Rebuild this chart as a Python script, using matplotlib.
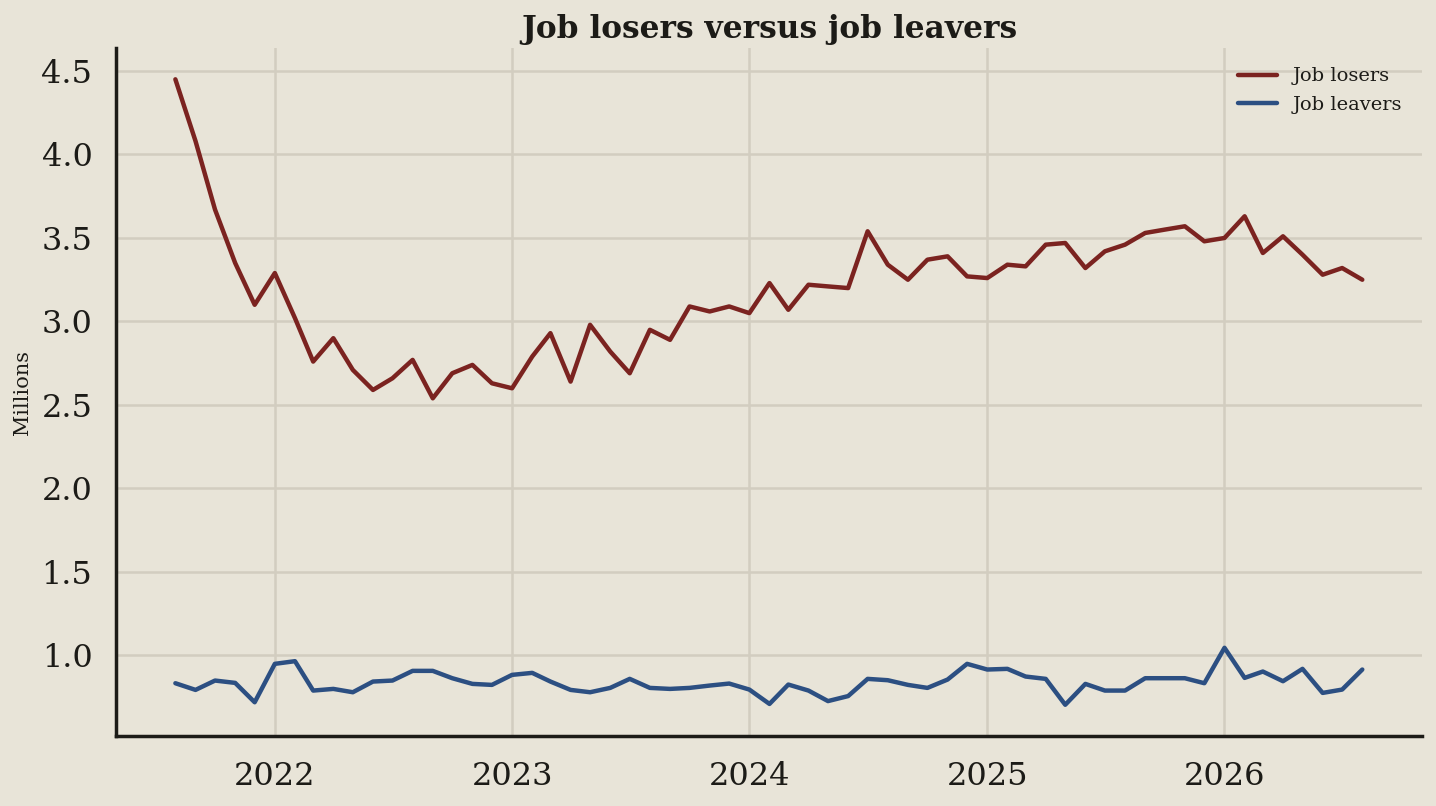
import matplotlib
matplotlib.use("Agg")
import matplotlib.pyplot as plt
import pandas as pd

dates = pd.date_range("2021-08-01", "2026-08-01", freq="MS")

job_losers = [
    4.45, 4.08, 3.67, 3.35, 3.10,
    3.29, 3.02, 2.76, 2.90, 2.71, 2.59, 2.66, 2.77, 2.54, 2.69, 2.74, 2.63,
    2.60, 2.79, 2.93, 2.64, 2.98, 2.82, 2.69, 2.95, 2.89, 3.09, 3.06, 3.09,
    3.05, 3.23, 3.07, 3.22, 3.21, 3.20, 3.54, 3.34, 3.25, 3.37, 3.39, 3.27,
    3.26, 3.34, 3.33, 3.46, 3.47, 3.32, 3.42, 3.46, 3.53, 3.55, 3.57, 3.48,
    3.50, 3.63, 3.41, 3.51, 3.40, 3.28, 3.32, 3.25,
]
job_leavers = [
    0.834, 0.794, 0.850, 0.836, 0.720,
    0.950, 0.966, 0.790, 0.800, 0.780, 0.844, 0.850, 0.908, 0.908, 0.864, 0.830, 0.824,
    0.884, 0.896, 0.844, 0.794, 0.780, 0.806, 0.860, 0.806, 0.800, 0.806, 0.820, 0.832,
    0.796, 0.710, 0.826, 0.790, 0.727, 0.757, 0.860, 0.852, 0.824, 0.806, 0.856, 0.950,
    0.916, 0.920, 0.874, 0.860, 0.705, 0.830, 0.790, 0.790, 0.864, 0.864, 0.864, 0.834,
    1.046, 0.866, 0.904, 0.846, 0.920, 0.776, 0.796, 0.916,
]
series_names = ["Job losers", "Job leavers"]
yticks = [1.0, 1.5, 2.0, 2.5, 3.0, 3.5, 4.0, 4.5]
year_ticks = ["2022", "2023", "2024", "2025", "2026"]

bg = "#e8e4d8"
ink = "#1c1b17"
grid_c = "#d2cdc0"

plt.rcParams["font.family"] = ["DejaVu Serif"]

fig = plt.figure(figsize=(14.36, 8.06), dpi=100, facecolor=bg)
ax = fig.add_axes([0.0808, 0.0868, 0.9092, 0.8536], facecolor=bg)

ax.plot(dates, job_losers, color="#7b2320", lw=3.2, label=series_names[0], solid_capstyle="round")
ax.plot(dates, job_leavers, color="#2c4f82", lw=3.2, label=series_names[1], solid_capstyle="round")

ax.set_yticks(yticks)
ax.set_yticklabels([f"{v:.1f}" for v in yticks])
ax.set_xticks([pd.Timestamp(f"{y}-01-01") for y in year_ticks])
ax.set_xticklabels(year_ticks)

ax.grid(True, color=grid_c, lw=1.8)
ax.set_axisbelow(True)
for s in ["top", "right"]:
    ax.spines[s].set_visible(False)
for s in ["left", "bottom"]:
    ax.spines[s].set_color(ink)
    ax.spines[s].set_linewidth(2.5)

ax.tick_params(axis="both", length=0, labelsize=23, colors=ink)
ax.tick_params(axis="x", pad=18)
ax.tick_params(axis="y", pad=17)

ax.set_ylabel("Millions", fontsize=15, color=ink, labelpad=7)
ax.set_title("Job losers versus job leavers", fontsize=22.5, fontweight="bold", color=ink, pad=7)

leg = ax.legend(loc="upper right", frameon=False, fontsize=14, labelcolor=ink,
                handlelength=2.0, borderaxespad=0.6, labelspacing=0.55)

fig.savefig("out.png", dpi=100, facecolor=bg)
